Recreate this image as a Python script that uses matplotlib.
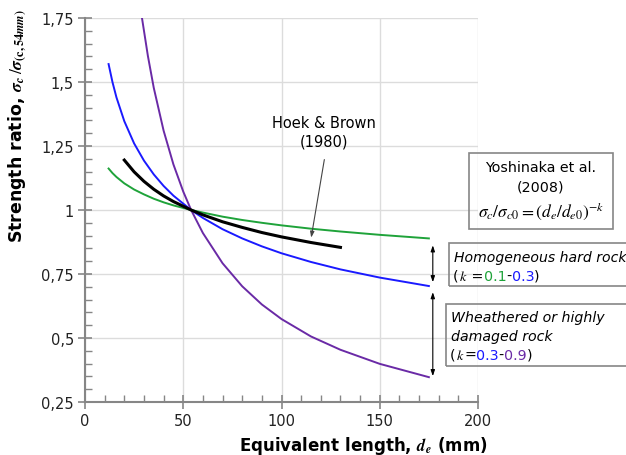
import matplotlib
matplotlib.use("Agg")
import matplotlib.pyplot as plt
from matplotlib.offsetbox import TextArea, HPacker, AnnotationBbox
from matplotlib.patches import Rectangle
from matplotlib.ticker import MultipleLocator, FuncFormatter

plt.rcParams["font.family"] = ["DejaVu Sans"]
plt.rcParams["mathtext.fontset"] = "stix"

# values (x = equivalent length in mm)
x_k01 = [12, 14, 16, 20, 25, 30, 35, 40, 45, 54, 60, 70, 80, 90, 100, 115, 130, 150, 175]
y_k01 = [1.162, 1.144, 1.129, 1.104, 1.080, 1.061, 1.044, 1.030, 1.018, 1.0,
         0.990, 0.974, 0.961, 0.950, 0.940, 0.927, 0.916, 0.903, 0.889]

x_k03 = [12, 14, 16, 20, 25, 30, 35, 40, 45, 54, 60, 70, 80, 90, 100, 115, 130, 150, 175]
y_k03 = [1.570, 1.499, 1.440, 1.347, 1.260, 1.193, 1.139, 1.094, 1.056, 1.0,
         0.969, 0.925, 0.889, 0.858, 0.831, 0.797, 0.768, 0.736, 0.703]

x_k09 = [29, 32, 35, 40, 45, 50, 54, 60, 70, 80, 90, 100, 115, 130, 150, 175]
y_k09 = [1.75, 1.602, 1.477, 1.310, 1.178, 1.072, 1.0, 0.910, 0.792, 0.702,
         0.631, 0.574, 0.506, 0.454, 0.399, 0.347]

x_hb = [20, 25, 30, 35, 40, 45, 54, 60, 70, 80, 90, 100, 115, 130]
y_hb = [1.195, 1.149, 1.112, 1.081, 1.055, 1.033, 1.0, 0.981, 0.954, 0.932,
        0.912, 0.895, 0.873, 0.854]

GREEN = "#1fa33a"
BLUE = "#1a1aff"
PURPLE = "#6a2aa6"
GRAY = "#868686"

W, H = 626, 456


def fpx(x, y):
    """figure pixel (from top-left) -> figure fraction"""
    return x / W, 1 - y / H


fig = plt.figure(figsize=(6.26, 4.56), dpi=100)
ax = fig.add_axes([85 / W, 1 - 403 / H, 393 / W, 384 / H])

ax.plot(x_k01, y_k01, color=GREEN, lw=1.4)
ax.plot(x_k03, y_k03, color=BLUE, lw=1.4)
ax.plot(x_k09, y_k09, color=PURPLE, lw=1.4)
ax.plot(x_hb, y_hb, color="black", lw=2.2)

ax.set_xlim(0, 200)
ax.set_ylim(0.25, 1.75)
ax.xaxis.set_major_locator(MultipleLocator(50))
ax.xaxis.set_minor_locator(MultipleLocator(10))
ax.yaxis.set_major_locator(MultipleLocator(0.25))
ax.yaxis.set_minor_locator(MultipleLocator(0.05))
ax.yaxis.set_major_formatter(FuncFormatter(lambda v, p: f"{v:g}".replace(".", ",")))
ax.spines[["top", "right"]].set_visible(False)
for s in ("left", "bottom"):
    ax.spines[s].set_color(GRAY)
    ax.spines[s].set_linewidth(1.5)
ax.tick_params(which="major", direction="inout", length=10, width=1.2, color=GRAY,
               labelsize=10.5, labelcolor="#222222", pad=3)
ax.tick_params(which="minor", direction="in", length=5, width=1, color=GRAY)
ax.grid(which="major", color="#dcdcdc", lw=1)
ax.set_axisbelow(True)

# Hoek & Brown label and pointer
ax.text(121.8, 1.306, "Hoek & Brown\n(1980)", ha="center", va="center",
        size=10.5, linespacing=1.25)
ax.annotate("", xy=(115.1, 0.892), xytext=(121.8, 1.197),
            arrowprops=dict(arrowstyle="-|>,head_length=0.35,head_width=0.12",
                            color="#444444", lw=0.8, shrinkA=0, shrinkB=0))

# range arrows on the right
ax.annotate("", xy=(177, 0.862), xytext=(177, 0.718), annotation_clip=False,
            arrowprops=dict(arrowstyle="<|-|>,head_length=0.35,head_width=0.12",
                            color="black", lw=0.8, shrinkA=0, shrinkB=0))
ax.annotate("", xy=(177, 0.679), xytext=(177, 0.351), annotation_clip=False,
            arrowprops=dict(arrowstyle="<|-|>,head_length=0.35,head_width=0.12",
                            color="black", lw=0.8, shrinkA=0, shrinkB=0))

# boxes
for (x0, y0, x1, y1) in [(469, 154, 613, 230), (449, 244, 660, 287), (446, 305, 660, 367)]:
    (fx0, fy1), (fx1, fy0) = fpx(x0, y0), fpx(x1, y1)
    fig.add_artist(Rectangle((fx0, fy0), fx1 - fx0, fy1 - fy0, transform=fig.transFigure,
                             fill=False, edgecolor=GRAY, lw=1.2))

fig.text(*fpx(541, 168), "Yoshinaka et al.", ha="center", va="center", size=10.3)
fig.text(*fpx(541, 188), "(2008)", ha="center", va="center", size=10.3)
fig.text(*fpx(541, 211), r"$\sigma_c/\sigma_{c0}=(d_e/d_{e0})^{-k}$",
         ha="center", va="center", size=12.5)


def rich_line(parts, x, y, size=10.3):
    boxes = []
    for s, c in parts:
        boxes.append(TextArea(s, textprops=dict(color=c, size=size)))
    pack = HPacker(children=boxes, align="baseline", pad=0, sep=0)
    ab = AnnotationBbox(pack, fpx(x, y), xycoords="figure fraction",
                        box_alignment=(0, 0.5), frameon=False, pad=0,
                        annotation_clip=False)
    fig.add_artist(ab)


fig.text(*fpx(454, 258), "Homogeneous hard rock", ha="left", va="center",
         size=10.1, fontstyle="italic")
rich_line([("(", "black"), ("$k$", "black"), (" =", "black"),
           ("0.1", GREEN), ("-", "black"), ("0.3", BLUE), (")", "black")], 453, 277)

fig.text(*fpx(451, 318), "Wheathered or highly", ha="left", va="center",
         size=10.2, fontstyle="italic")
fig.text(*fpx(451, 337), "damaged rock", ha="left", va="center",
         size=10.2, fontstyle="italic")
rich_line([("(", "black"), ("$k$", "black"), ("=", "black"),
           ("0.3", BLUE), ("-", "black"), ("0.9", PURPLE), (")", "black")], 450, 356)

# axis titles (placed like the original, off-centre)
fig.text(*fpx(18, 126),
         r"Strength ratio, $\mathbfit{\sigma_c}\,/\mathbfit{\sigma}_{\mathbf{(c,54}\mathbfit{mm}\mathbf{)}}$",
         rotation=90, ha="center", va="center", size=12.5, fontweight="bold")
fig.text(*fpx(363, 446), r"Equivalent length, $\mathbfit{d_e}$ (mm)",
         ha="center", va="center", size=12, fontweight="bold")

fig.savefig("out.png", dpi=100)
